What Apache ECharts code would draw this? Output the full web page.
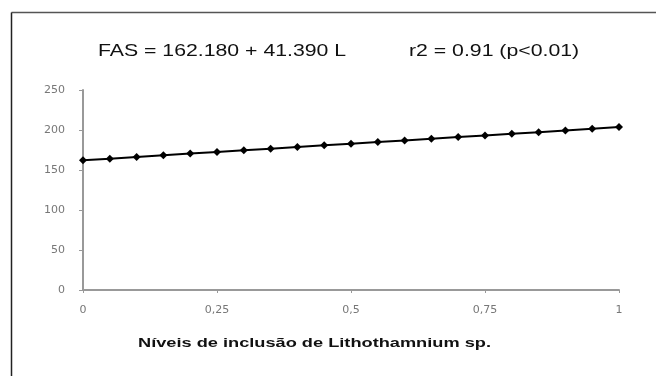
<!DOCTYPE html>
<html>
<head>
<meta charset="utf-8">
<script src="https://cdn.jsdelivr.net/npm/echarts@6/dist/echarts.min.js"></script>
<style>
  html, body { margin: 0; padding: 0; background: #fff; }
  #chart { width: 656px; height: 376px; }
</style>
</head>
<body>
<div id="chart"></div>
<script>
// niveis de inclusao (x) and FAS values
const levels = [0, 0.05, 0.1, 0.15, 0.2, 0.25, 0.3, 0.35, 0.4, 0.45, 0.5,
  0.55, 0.6, 0.65, 0.7, 0.75, 0.8, 0.85, 0.9, 0.95, 1]
const fas = [162.2, 164.2, 166.3, 168.4, 170.5, 172.5, 174.6, 176.7, 178.7, 180.8, 182.9,
  184.9, 187.0, 189.1, 191.1, 193.2, 195.3, 197.3, 199.4, 201.5, 203.6]
const xTickLabels = { 0: '0', 0.25: '0,25', 0.5: '0,5', 0.75: '0,75', 1: '1' }
const yTicks = [0, 50, 100, 150, 200, 250]
const equation = 'FAS = 162.180 + 41.390 L'
const fitText = 'r2 = 0.91 (p<0.01)'
const xName = 'Níveis de inclusão de Lithothamnium sp.'

const chart = echarts.init(document.getElementById('chart'))
const font = 'Liberation Sans, Arial, sans-serif'
const tickFont = 'DejaVu Sans, sans-serif'

chart.setOption({
  animation: false,
  backgroundColor: '#fff',
  textStyle: { fontFamily: font },
  graphic: [
    { type: 'line', shape: { x1: 11.5, y1: 12.5, x2: 656, y2: 12.5 }, style: { stroke: '#555', lineWidth: 1.5 } },
    { type: 'line', shape: { x1: 11.5, y1: 12.5, x2: 11.5, y2: 376 }, style: { stroke: '#222', lineWidth: 1.5 } },
    // the source picture is stretched sideways, so the texts are too
    { type: 'text', x: 98, y: 43, scaleX: 1.25, style: { text: equation, font: '17px ' + font, fill: '#111', verticalAlign: 'top' } },
    { type: 'text', x: 409, y: 43, scaleX: 1.25, style: { text: fitText, font: '17px ' + font, fill: '#111', verticalAlign: 'top' } },
    { type: 'text', x: 138, y: 337, scaleX: 1.4, style: { text: xName, font: 'bold 13px ' + font, fill: '#111', verticalAlign: 'top' } }
  ],
  grid: { left: 83, right: 37, top: 90, bottom: 86 },
  xAxis: {
    type: 'value',
    min: 0,
    max: 1,
    interval: 0.25,
    splitLine: { show: false },
    axisLine: { lineStyle: { color: '#999', width: 2 } },
    axisTick: { show: true, inside: false, length: 3, lineStyle: { color: '#999' } },
    axisLabel: {
      fontSize: 11, fontFamily: tickFont, color: '#777', margin: 15,
      formatter: v => xTickLabels[v] !== undefined ? xTickLabels[v] : ''
    }
  },
  yAxis: {
    type: 'value',
    min: yTicks[0],
    max: yTicks[yTicks.length - 1],
    interval: 50,
    splitLine: { show: false },
    axisLine: { show: true, lineStyle: { color: '#999', width: 2 } },
    axisTick: { show: true, length: 4, lineStyle: { color: '#999' } },
    axisLabel: { fontSize: 11, fontFamily: tickFont, color: '#777', margin: 18 }
  },
  series: [
    {
      type: 'line',
      data: levels.map((x, i) => [x, fas[i]]),
      symbol: 'diamond',
      symbolSize: 8,
      showAllSymbol: true,
      lineStyle: { color: '#000', width: 2 },
      itemStyle: { color: '#000' }
    }
  ]
})
</script>
</body>
</html>
